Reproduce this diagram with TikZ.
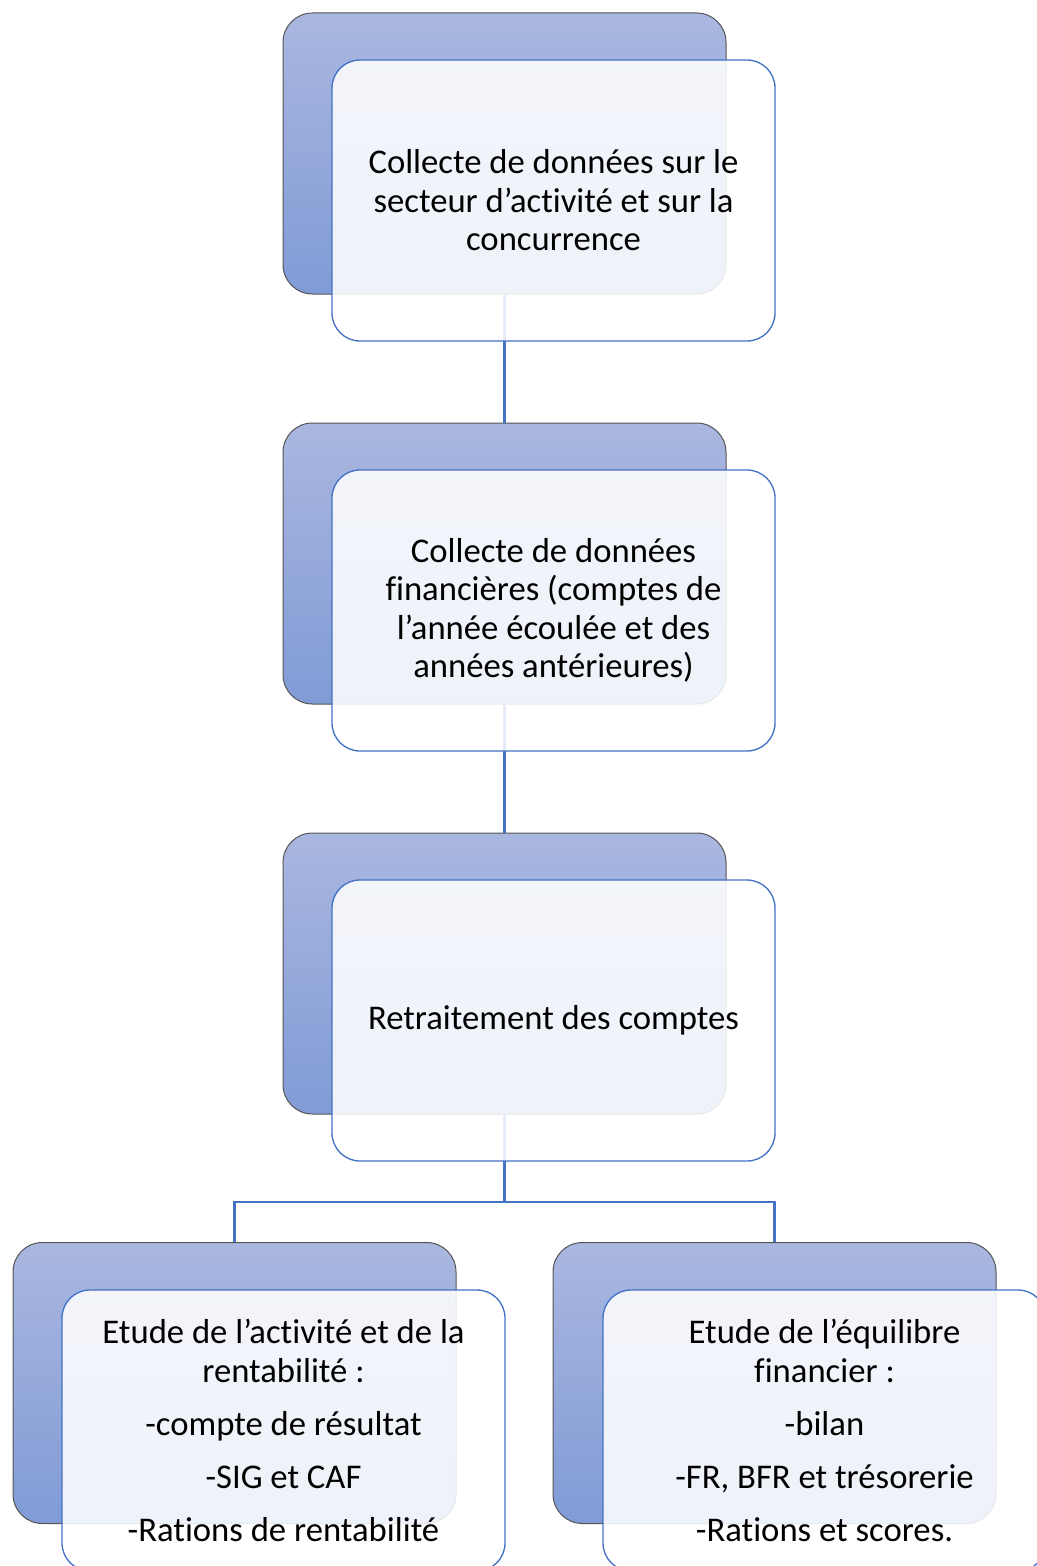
\documentclass[tikz,border=0pt]{standalone}
\usepackage{fontspec}
\setmainfont{Carlito}[Ligatures=NoCommon]
\definecolor{backtop}{RGB}{170,183,224}
\definecolor{backbot}{RGB}{128,155,214}
\definecolor{edgegray}{RGB}{85,85,85}
\definecolor{accent}{RGB}{68,114,196}
\begin{document}
\begin{tikzpicture}[x=0.75pt,y=-0.75pt,
  backbox/.style={rounded corners=22pt, draw=edgegray, line width=0.75pt,
    top color=backtop, bottom color=backbot,
    minimum width=332.25pt, minimum height=210.75pt, inner sep=0pt},
  frontbox/.style={rounded corners=21pt, draw=accent, line width=1pt,
    fill=white, fill opacity=0.87, text opacity=1,
    minimum width=332.25pt, minimum height=210.75pt, align=center,
    font=\fontsize{26}{28.9}\selectfont, inner sep=0pt},
  link/.style={draw=accent, line width=1.7pt}]
\path[use as bounding box] (0,0) rectangle (1037,1566);
\clip (0,0) rectangle (1037,1566);

% back boxes
\node[backbox] (b1) at (504.5,153.5) {};
\node[backbox] (b2) at (504.5,563.5) {};
\node[backbox] (b3) at (504.5,973.5) {};
\node[backbox] (b4) at (234.5,1383) {};
\node[backbox] (b5) at (774.5,1383) {};

% connectors
\coordinate (j) at (504.5,1202);
\draw[link] (b1.south) -- (b2.north);
\draw[link] (b2.south) -- (b3.north);
\draw[link] (b3.south) -- (b3.south |- j) -| (b4.north);
\draw[link] (b3.south |- j) -| (b5.north);

% front boxes
\node[frontbox] (f1) at (553.5,200.5) {Collecte de données sur le\\secteur d’activité et sur la\\concurrence};
\node[frontbox] (f2) at (553.5,610.5) {Collecte de données\\financières (comptes de\\l’année écoulée et des\\années antérieures)};
\node[frontbox] (f3) at (553.5,1020.5) {Retraitement des comptes};
\node[frontbox] (f4) at (283.5,1430.5) {Etude de l’activité et de la\\rentabilité :\\[10.9pt]-compte de résultat\\[10.9pt]-SIG et CAF\\[10.9pt]-Rations de rentabilité};
\node[frontbox] (f5) at (824.5,1430.5) {Etude de l’équilibre\\financier :\\[10.9pt]-bilan\\[10.9pt]-FR, BFR et trésorerie\\[10.9pt]-Rations et scores.};
\end{tikzpicture}
\end{document}
